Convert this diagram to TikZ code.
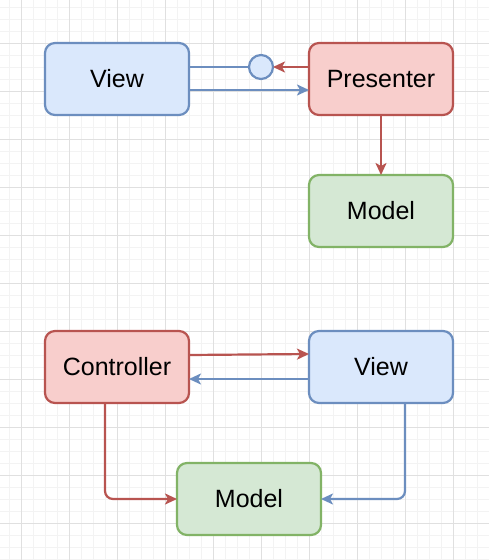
\documentclass[tikz,border=0pt]{standalone}
\usepackage{fontspec}
\setmainfont{Liberation Sans}
\usetikzlibrary{arrows.meta}
\definecolor{bluefill}{HTML}{DAE8FC}
\definecolor{bluestroke}{HTML}{6C8EBF}
\definecolor{redfill}{HTML}{F8CECC}
\definecolor{redstroke}{HTML}{B85450}
\definecolor{greenfill}{HTML}{D5E8D4}
\definecolor{greenstroke}{HTML}{82B366}
\definecolor{minorgrid}{HTML}{F3F3F3}
\definecolor{majorgrid}{HTML}{E0E0E0}
\tikzset{
  box/.style={rectangle, rounded corners=10pt, minimum width=144pt, minimum height=72pt,
    line width=2.2pt, inner sep=0pt, outer sep=0pt, font=\fontsize{25}{30}\selectfont},
  bluebox/.style={box, draw=bluestroke, fill=bluefill},
  redbox/.style={box, draw=redstroke, fill=redfill},
  greenbox/.style={box, draw=greenstroke, fill=greenfill},
  tip/.style={-{Stealth[length=12pt, width=11pt, inset=3pt]}},
  blueline/.style={draw=bluestroke, line width=2.2pt},
  bluearr/.style={blueline, tip},
  redline/.style={draw=redstroke, line width=2.2pt},
  redarr/.style={redline, tip},
  minorline/.style={draw=minorgrid, line width=1pt},
  majorline/.style={draw=majorgrid, line width=1pt},
}
\begin{document}
\begin{tikzpicture}[x=1pt, y=-1pt]
\useasboundingbox (0,0) rectangle (489,560);
\fill[white] (0,0) rectangle (489,560);
\begin{scope}
\clip (0,0) rectangle (489,560);
\foreach \i in {-1,...,39} \draw[minorline] ({21.5+12*\i},0) -- ({21.5+12*\i},560);
\foreach \j in {-3,...,43} \draw[minorline] (0,{43+12*\j}) -- (489,{43+12*\j});
\foreach \i in {0,...,9} \draw[majorline] ({21.5+48*\i},0) -- ({21.5+48*\i},560);
\foreach \j in {-1,...,10} \draw[majorline] (0,{43+48*\j}) -- (489,{43+48*\j});
\end{scope}

\node[bluebox] (v1) at (117,79) {View};
\node[redbox] (p) at (381,79) {Presenter};
\node[greenbox] (m1) at (381,211) {Model};
\node[redbox] (c) at (117,367) {Controller};
\node[bluebox] (v2) at (381,367) {View};
\node[greenbox] (m2) at (249,499) {Model};
\node[circle, draw=bluestroke, fill=bluefill, line width=2.2pt, minimum size=24pt, inner sep=0pt, outer sep=0pt] (circ) at (261,67) {};

\draw[blueline] ([yshift=12pt]v1.east) -- (circ.west);
\draw[redarr] ([yshift=12pt]p.west) -- (circ.east);
\draw[bluearr] ([yshift=-11pt]v1.east) -- ([yshift=-11pt]p.west);
\draw[redarr] (p.south) -- (m1.north);

\draw[redarr] ([yshift=12pt]c.east) -- ([yshift=13pt]v2.west);
\draw[bluearr] ([yshift=-12pt]v2.west) -- ([yshift=-12pt]c.east);
\draw[redarr, rounded corners=8pt] ([xshift=-12pt]c.south) |- (m2.west);
\draw[bluearr, rounded corners=8pt] ([xshift=24pt]v2.south) |- (m2.east);
\end{tikzpicture}
\end{document}
